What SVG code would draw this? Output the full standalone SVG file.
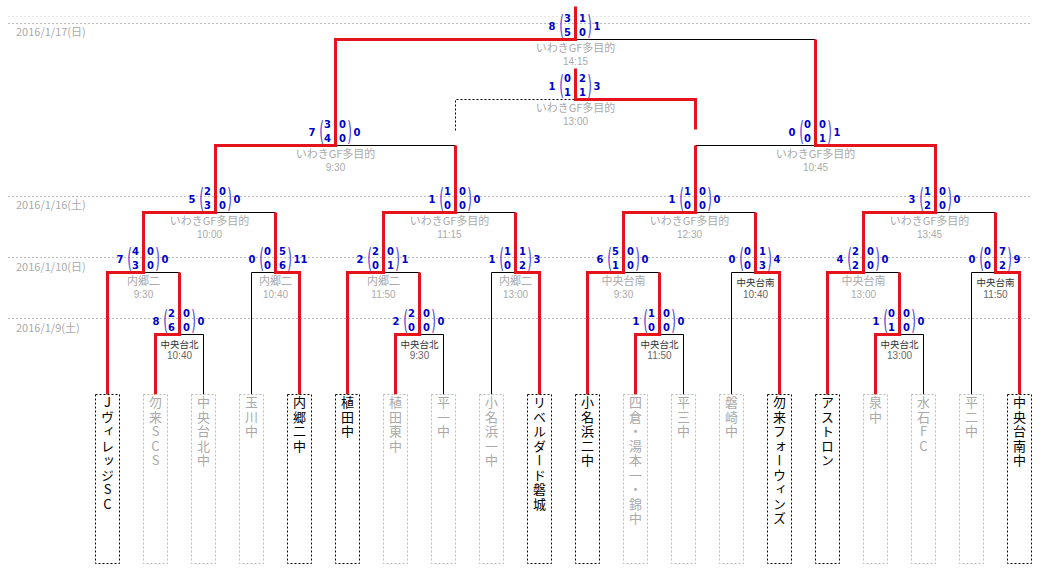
<svg xmlns="http://www.w3.org/2000/svg" xmlns:xlink="http://www.w3.org/1999/xlink" width="1044" height="579" viewBox="0 0 1044 579">
<style>
.red{stroke:#e5141c;stroke-width:3;fill:none;stroke-linejoin:miter}
.blk{stroke:#000;stroke-width:1;fill:none}
.dsh{stroke:#000;stroke-width:1;fill:none;stroke-dasharray:2 2}
.dl{stroke:#bbb;stroke-width:1;stroke-dasharray:2 2}
.dl0{stroke:#e6e6e6;stroke-width:1;stroke-dasharray:2 2}
.date{font-family:"Noto Sans CJK JP",sans-serif;font-size:11px;fill:#aaa}
.sc{font-family:"DejaVu Sans",sans-serif;font-weight:bold;font-size:10px;fill:#0000c8}
.e{text-anchor:end}
.m{text-anchor:middle}
.br{font-family:"DejaVu Sans",sans-serif;font-size:12px;fill:#4a4ad2;text-anchor:middle}
.vn{font-family:"Noto Sans CJK JP",sans-serif;font-size:11px;fill:#aaa;text-anchor:middle}
.vt{font-family:"Liberation Sans",sans-serif;font-size:10px;fill:#aaa;text-anchor:middle}
.vn.d{font-size:9.5px;fill:#333}
.vt.d{fill:#666}
.tb{fill:none;stroke:#bbb;stroke-width:1;stroke-dasharray:2 2}
.tb.w{stroke:#000}
.tn{font-family:"Noto Sans CJK JP",sans-serif;font-size:13px;fill:#aaa;writing-mode:vertical-rl;text-orientation:upright;letter-spacing:1.5px}
.tn.w{fill:#000}
</style>
<defs>
<g id="brk">
<text class="br" transform="translate(-14,-5.5) scale(1,2.2)">(</text>
<text class="br" transform="translate(14,-5.5) scale(1,2.2)">)</text>
</g>
</defs>
<rect width="1044" height="579" fill="#fff"/>

<g id="dates">
<line class="dl0" x1="8" y1="16.5" x2="1032" y2="16.5"/>
<line class="dl" x1="8" y1="23.5" x2="1032" y2="23.5"/>
<line class="dl" x1="8" y1="196.5" x2="1032" y2="196.5"/>
<line class="dl" x1="8" y1="257.5" x2="1032" y2="257.5"/>
<line class="dl" x1="8" y1="318.5" x2="1032" y2="318.5"/>
<text class="date" x="16" y="36">2016/1/17(日)</text>
<text class="date" x="16" y="209">2016/1/16(土)</text>
<text class="date" x="16" y="271">2016/1/10(日)</text>
<text class="date" x="16" y="332">2016/1/9(土)</text>
</g>

<g id="connectors" transform="translate(0.5,0.5)">
<path class="blk" d="M203 394V334H179"/>
<path class="blk" d="M251 394V272H275"/>
<path class="blk" d="M143 272H179"/>
<path class="blk" d="M443 394V334H419"/>
<path class="blk" d="M383 272H419"/>
<path class="blk" d="M491 394V272H515"/>
<path class="blk" d="M215 212H275"/>
<path class="blk" d="M455 212H515"/>
<path class="blk" d="M683 394V334H659"/>
<path class="blk" d="M623 272H659"/>
<path class="blk" d="M731 394V272H755"/>
<path class="blk" d="M695 212H755"/>
<path class="blk" d="M923 394V334H899"/>
<path class="blk" d="M863 272H899"/>
<path class="blk" d="M971 394V272H995"/>
<path class="blk" d="M935 212H995"/>
<path class="blk" d="M335 145H455"/>
<path class="blk" d="M695 145H815"/>
<path class="blk" d="M575 39H815"/>
<path class="dsh" d="M455 130V99H575"/>
<path class="red" d="M107 394V272H143V212H215V145H335V39H575V6"/>
<path class="red" d="M155 394V334H179V272"/>
<path class="red" d="M299 394V272H275V212"/>
<path class="red" d="M347 394V272H383V212H455V145"/>
<path class="red" d="M395 394V334H419V272"/>
<path class="red" d="M539 394V272H515V212"/>
<path class="red" d="M587 394V272H623V212H695V145"/>
<path class="red" d="M695 129V99H575V68"/>
<path class="red" d="M635 394V334H659V272"/>
<path class="red" d="M779 394V272H755V212"/>
<path class="red" d="M827 394V272H863V212H935V145H815V39"/>
<path class="red" d="M875 394V334H899V272"/>
<path class="red" d="M1019 394V272H995V212"/>
</g>

<g id="m1" transform="translate(179.5,334)">
<text class="sc e" x="-20" y="-9.5">8</text><text class="sc m" x="-8" y="-17.5">2</text><text class="sc m" x="-8" y="-3.5">6</text><text class="sc m" x="7" y="-17.5">0</text><text class="sc m" x="7" y="-3.5">0</text><text class="sc" x="18" y="-9.5">0</text><use xlink:href="#brk"/>
<text class="vn d" x="0" y="13.5">中央台北</text><text class="vt d" x="0" y="25">10:40</text>
</g>
<g id="m2" transform="translate(143.5,272)">
<text class="sc e" x="-20" y="-9.5">7</text><text class="sc m" x="-8" y="-17.5">4</text><text class="sc m" x="-8" y="-3.5">3</text><text class="sc m" x="7" y="-17.5">0</text><text class="sc m" x="7" y="-3.5">0</text><text class="sc" x="18" y="-9.5">0</text><use xlink:href="#brk"/>
<text class="vn" x="0" y="12.5">内郷二</text><text class="vt" x="0" y="25.5">9:30</text>
</g>
<g id="m3" transform="translate(275.5,272)">
<text class="sc e" x="-20" y="-9.5">0</text><text class="sc m" x="-8" y="-17.5">0</text><text class="sc m" x="-8" y="-3.5">0</text><text class="sc m" x="7" y="-17.5">5</text><text class="sc m" x="7" y="-3.5">6</text><text class="sc" x="18" y="-9.5">11</text><use xlink:href="#brk"/>
<text class="vn" x="0" y="12.5">内郷二</text><text class="vt" x="0" y="25.5">10:40</text>
</g>
<g id="m4" transform="translate(215.5,212)">
<text class="sc e" x="-20" y="-9.5">5</text><text class="sc m" x="-8" y="-17.5">2</text><text class="sc m" x="-8" y="-3.5">3</text><text class="sc m" x="7" y="-17.5">0</text><text class="sc m" x="7" y="-3.5">0</text><text class="sc" x="18" y="-9.5">0</text><use xlink:href="#brk"/>
<text class="vn" x="-6" y="12.5">いわきGF多目的</text><text class="vt" x="-6" y="25.5">10:00</text>
</g>
<g id="m5" transform="translate(419.5,334)">
<text class="sc e" x="-20" y="-9.5">2</text><text class="sc m" x="-8" y="-17.5">2</text><text class="sc m" x="-8" y="-3.5">0</text><text class="sc m" x="7" y="-17.5">0</text><text class="sc m" x="7" y="-3.5">0</text><text class="sc" x="18" y="-9.5">0</text><use xlink:href="#brk"/>
<text class="vn d" x="0" y="13.5">中央台北</text><text class="vt d" x="0" y="25">9:30</text>
</g>
<g id="m6" transform="translate(383.5,272)">
<text class="sc e" x="-20" y="-9.5">2</text><text class="sc m" x="-8" y="-17.5">2</text><text class="sc m" x="-8" y="-3.5">0</text><text class="sc m" x="7" y="-17.5">0</text><text class="sc m" x="7" y="-3.5">1</text><text class="sc" x="18" y="-9.5">1</text><use xlink:href="#brk"/>
<text class="vn" x="0" y="12.5">内郷二</text><text class="vt" x="0" y="25.5">11:50</text>
</g>
<g id="m7" transform="translate(515.5,272)">
<text class="sc e" x="-20" y="-9.5">1</text><text class="sc m" x="-8" y="-17.5">1</text><text class="sc m" x="-8" y="-3.5">0</text><text class="sc m" x="7" y="-17.5">1</text><text class="sc m" x="7" y="-3.5">2</text><text class="sc" x="18" y="-9.5">3</text><use xlink:href="#brk"/>
<text class="vn" x="0" y="12.5">内郷二</text><text class="vt" x="0" y="25.5">13:00</text>
</g>
<g id="m8" transform="translate(455.5,212)">
<text class="sc e" x="-20" y="-9.5">1</text><text class="sc m" x="-8" y="-17.5">1</text><text class="sc m" x="-8" y="-3.5">0</text><text class="sc m" x="7" y="-17.5">0</text><text class="sc m" x="7" y="-3.5">0</text><text class="sc" x="18" y="-9.5">0</text><use xlink:href="#brk"/>
<text class="vn" x="-6" y="12.5">いわきGF多目的</text><text class="vt" x="-6" y="25.5">11:15</text>
</g>
<g id="m9" transform="translate(659.5,334)">
<text class="sc e" x="-20" y="-9.5">1</text><text class="sc m" x="-8" y="-17.5">1</text><text class="sc m" x="-8" y="-3.5">0</text><text class="sc m" x="7" y="-17.5">0</text><text class="sc m" x="7" y="-3.5">0</text><text class="sc" x="18" y="-9.5">0</text><use xlink:href="#brk"/>
<text class="vn d" x="0" y="13.5">中央台北</text><text class="vt d" x="0" y="25">11:50</text>
</g>
<g id="m10" transform="translate(623.5,272)">
<text class="sc e" x="-20" y="-9.5">6</text><text class="sc m" x="-8" y="-17.5">5</text><text class="sc m" x="-8" y="-3.5">1</text><text class="sc m" x="7" y="-17.5">0</text><text class="sc m" x="7" y="-3.5">0</text><text class="sc" x="18" y="-9.5">0</text><use xlink:href="#brk"/>
<text class="vn" x="0" y="12.5">中央台南</text><text class="vt" x="0" y="25.5">9:30</text>
</g>
<g id="m11" transform="translate(755.5,272)">
<text class="sc e" x="-20" y="-9.5">0</text><text class="sc m" x="-8" y="-17.5">0</text><text class="sc m" x="-8" y="-3.5">0</text><text class="sc m" x="7" y="-17.5">1</text><text class="sc m" x="7" y="-3.5">3</text><text class="sc" x="18" y="-9.5">4</text><use xlink:href="#brk"/>
<text class="vn d" x="0" y="13.5">中央台南</text><text class="vt d" x="0" y="25.5">10:40</text>
</g>
<g id="m12" transform="translate(695.5,212)">
<text class="sc e" x="-20" y="-9.5">1</text><text class="sc m" x="-8" y="-17.5">1</text><text class="sc m" x="-8" y="-3.5">0</text><text class="sc m" x="7" y="-17.5">0</text><text class="sc m" x="7" y="-3.5">0</text><text class="sc" x="18" y="-9.5">0</text><use xlink:href="#brk"/>
<text class="vn" x="-6" y="12.5">いわきGF多目的</text><text class="vt" x="-6" y="25.5">12:30</text>
</g>
<g id="m13" transform="translate(899.5,334)">
<text class="sc e" x="-20" y="-9.5">1</text><text class="sc m" x="-8" y="-17.5">0</text><text class="sc m" x="-8" y="-3.5">1</text><text class="sc m" x="7" y="-17.5">0</text><text class="sc m" x="7" y="-3.5">0</text><text class="sc" x="18" y="-9.5">0</text><use xlink:href="#brk"/>
<text class="vn d" x="0" y="13.5">中央台北</text><text class="vt d" x="0" y="25">13:00</text>
</g>
<g id="m14" transform="translate(863.5,272)">
<text class="sc e" x="-20" y="-9.5">4</text><text class="sc m" x="-8" y="-17.5">2</text><text class="sc m" x="-8" y="-3.5">2</text><text class="sc m" x="7" y="-17.5">0</text><text class="sc m" x="7" y="-3.5">0</text><text class="sc" x="18" y="-9.5">0</text><use xlink:href="#brk"/>
<text class="vn" x="0" y="12.5">中央台南</text><text class="vt" x="0" y="25.5">13:00</text>
</g>
<g id="m15" transform="translate(995.5,272)">
<text class="sc e" x="-20" y="-9.5">0</text><text class="sc m" x="-8" y="-17.5">0</text><text class="sc m" x="-8" y="-3.5">0</text><text class="sc m" x="7" y="-17.5">7</text><text class="sc m" x="7" y="-3.5">2</text><text class="sc" x="18" y="-9.5">9</text><use xlink:href="#brk"/>
<text class="vn d" x="0" y="13.5">中央台南</text><text class="vt d" x="0" y="25.5">11:50</text>
</g>
<g id="m16" transform="translate(935.5,212)">
<text class="sc e" x="-20" y="-9.5">3</text><text class="sc m" x="-8" y="-17.5">1</text><text class="sc m" x="-8" y="-3.5">2</text><text class="sc m" x="7" y="-17.5">0</text><text class="sc m" x="7" y="-3.5">0</text><text class="sc" x="18" y="-9.5">0</text><use xlink:href="#brk"/>
<text class="vn" x="-6" y="12.5">いわきGF多目的</text><text class="vt" x="-6" y="25.5">13:45</text>
</g>
<g id="sf1" transform="translate(335.5,145)">
<text class="sc e" x="-20" y="-9.5">7</text><text class="sc m" x="-8" y="-17.5">3</text><text class="sc m" x="-8" y="-3.5">4</text><text class="sc m" x="7" y="-17.5">0</text><text class="sc m" x="7" y="-3.5">0</text><text class="sc" x="18" y="-9.5">0</text><use xlink:href="#brk"/>
<text class="vn" x="0" y="12.5">いわきGF多目的</text><text class="vt" x="0" y="25.5">9:30</text>
</g>
<g id="sf2" transform="translate(815.5,145)">
<text class="sc e" x="-20" y="-9.5">0</text><text class="sc m" x="-8" y="-17.5">0</text><text class="sc m" x="-8" y="-3.5">0</text><text class="sc m" x="7" y="-17.5">0</text><text class="sc m" x="7" y="-3.5">1</text><text class="sc" x="18" y="-9.5">1</text><use xlink:href="#brk"/>
<text class="vn" x="0" y="12.5">いわきGF多目的</text><text class="vt" x="0" y="25.5">10:45</text>
</g>
<g id="third" transform="translate(575.5,99)">
<text class="sc e" x="-20" y="-9.5">1</text><text class="sc m" x="-8" y="-17.5">0</text><text class="sc m" x="-8" y="-3.5">1</text><text class="sc m" x="7" y="-17.5">2</text><text class="sc m" x="7" y="-3.5">1</text><text class="sc" x="18" y="-9.5">3</text><use xlink:href="#brk"/>
<text class="vn" x="0" y="12.5">いわきGF多目的</text><text class="vt" x="0" y="25.5">13:00</text>
</g>
<g id="final" transform="translate(575.5,39)">
<text class="sc e" x="-20" y="-9.5">8</text><text class="sc m" x="-8" y="-17.5">3</text><text class="sc m" x="-8" y="-3.5">5</text><text class="sc m" x="7" y="-17.5">1</text><text class="sc m" x="7" y="-3.5">0</text><text class="sc" x="18" y="-9.5">1</text><use xlink:href="#brk"/>
<text class="vn" x="0" y="12.5">いわきGF多目的</text><text class="vt" x="0" y="25.5">14:15</text>
</g>

<g id="t0"><rect class="tb w" x="95.5" y="394.5" width="24" height="169"/><text class="tn w" x="107.5" y="396">JヴィレッジSC</text></g>
<g id="t1"><rect class="tb" x="143.5" y="394.5" width="24" height="169"/><text class="tn" x="155.5" y="396">勿来SCS</text></g>
<g id="t2"><rect class="tb" x="191.5" y="394.5" width="24" height="169"/><text class="tn" x="203.5" y="396">中央台北中</text></g>
<g id="t3"><rect class="tb" x="239.5" y="394.5" width="24" height="169"/><text class="tn" x="251.5" y="396">玉川中</text></g>
<g id="t4"><rect class="tb w" x="287.5" y="394.5" width="24" height="169"/><text class="tn w" x="299.5" y="396">内郷二中</text></g>
<g id="t5"><rect class="tb w" x="335.5" y="394.5" width="24" height="169"/><text class="tn w" x="347.5" y="396">植田中</text></g>
<g id="t6"><rect class="tb" x="383.5" y="394.5" width="24" height="169"/><text class="tn" x="395.5" y="396">植田東中</text></g>
<g id="t7"><rect class="tb" x="431.5" y="394.5" width="24" height="169"/><text class="tn" x="443.5" y="396">平一中</text></g>
<g id="t8"><rect class="tb" x="479.5" y="394.5" width="24" height="169"/><text class="tn" x="491.5" y="396">小名浜一中</text></g>
<g id="t9"><rect class="tb w" x="527.5" y="394.5" width="24" height="169"/><text class="tn w" x="539.5" y="396">リベルダード磐城</text></g>
<g id="t10"><rect class="tb w" x="575.5" y="394.5" width="24" height="169"/><text class="tn w" x="587.5" y="396">小名浜二中</text></g>
<g id="t11"><rect class="tb" x="623.5" y="394.5" width="24" height="169"/><text class="tn" x="635.5" y="396">四倉・湯本一・錦中</text></g>
<g id="t12"><rect class="tb" x="671.5" y="394.5" width="24" height="169"/><text class="tn" x="683.5" y="396">平三中</text></g>
<g id="t13"><rect class="tb" x="719.5" y="394.5" width="24" height="169"/><text class="tn" x="731.5" y="396">磐崎中</text></g>
<g id="t14"><rect class="tb w" x="767.5" y="394.5" width="24" height="169"/><text class="tn w" x="779.5" y="396">勿来フォーウィンズ</text></g>
<g id="t15"><rect class="tb w" x="815.5" y="394.5" width="24" height="169"/><text class="tn w" x="827.5" y="396">アストロン</text></g>
<g id="t16"><rect class="tb" x="863.5" y="394.5" width="24" height="169"/><text class="tn" x="875.5" y="396">泉中</text></g>
<g id="t17"><rect class="tb" x="911.5" y="394.5" width="24" height="169"/><text class="tn" x="923.5" y="396">水石FC</text></g>
<g id="t18"><rect class="tb" x="959.5" y="394.5" width="24" height="169"/><text class="tn" x="971.5" y="396">平二中</text></g>
<g id="t19"><rect class="tb w" x="1007.5" y="394.5" width="24" height="169"/><text class="tn w" x="1019.5" y="396">中央台南中</text></g>
</svg>
